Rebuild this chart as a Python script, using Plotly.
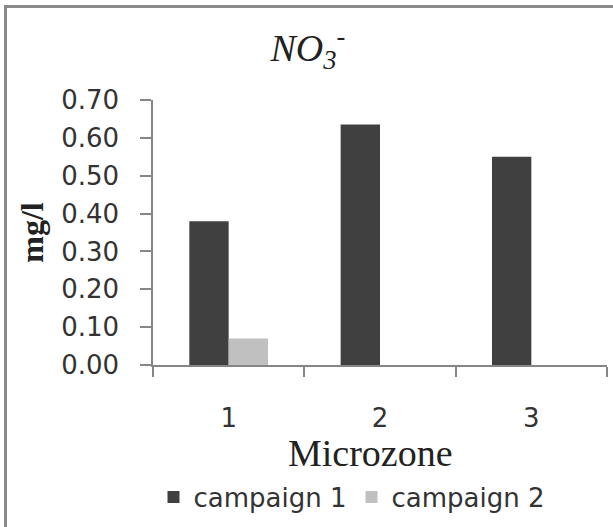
import plotly.graph_objects as go

zones = ["1", "2", "3"]
campaign1 = [0.38, 0.635, 0.55]
campaign2 = [0.07, 0.0, 0.0]
series_names = ["campaign 1", "campaign 2"]
y_ticks = [0.0, 0.1, 0.2, 0.3, 0.4, 0.5, 0.6, 0.7]
y_ticktext = ["%.2f" % v for v in y_ticks]

W, H = 613, 527
L, R, T, B = 153, 6, 100, 162
pw, ph = W - L - R, H - T - B

def px(x):
    return (x - L) / pw

def py(y):
    return (H - B - y) / ph

fig = go.Figure()
fig.add_trace(go.Bar(x=zones, y=campaign1, name=series_names[0],
                     marker=dict(color="#404040", line=dict(width=0))))
fig.add_trace(go.Bar(x=zones, y=campaign2, name=series_names[1],
                     marker=dict(color="#c0c0c0", line=dict(width=0))))

axis_color = "#868686"
sans = "DejaVu Sans"
serif = "Liberation Serif, Times New Roman, serif"

fig.update_layout(
    width=W, height=H,
    margin=dict(l=L, r=R, t=T, b=B, pad=0),
    paper_bgcolor="white", plot_bgcolor="white",
    barmode="group", bargap=0.48, bargroupgap=0,
    title=dict(text="<i>NO<sub>3</sub><sup>-</sup></i>",
               font=dict(family=serif, size=38, color="#222"),
               x=308 / W, xanchor="center", xref="container",
               y=1 - 48 / H, yanchor="middle", yref="container"),
    xaxis=dict(type="category", showline=True, linecolor=axis_color, linewidth=1.5,
               ticks="outside", tickson="boundaries", ticklen=10, tickcolor=axis_color,
               tickwidth=1.5, showgrid=False, ticklabelstandoff=29,
               tickfont=dict(family=sans, size=26, color="#333")),
    yaxis=dict(range=[0, 0.7], tickvals=y_ticks, ticktext=y_ticktext,
               showline=True, linecolor=axis_color, linewidth=1.5,
               ticks="outside", ticklen=11, tickcolor=axis_color, tickwidth=1.5,
               showgrid=False, zeroline=False, ticklabelstandoff=16,
               tickfont=dict(family=sans, size=26, color="#333"),
               title=dict(text="<b>mg/l</b>", font=dict(family=serif, size=32, color="#222"),
                          standoff=8)),
    annotations=[dict(text="Microzone", xref="paper", yref="paper",
                      x=px(370), y=py(453), xanchor="center", yanchor="middle",
                      showarrow=False, font=dict(family=serif, size=38, color="#222"))],
    showlegend=True,
    legend=dict(orientation="h", x=px(352), xanchor="center", y=py(497), yanchor="middle",
                font=dict(family=sans, size=26, color="#333"),
                bgcolor="rgba(0,0,0,0)", traceorder="normal"),
    shapes=[dict(type="rect", xref="paper", yref="paper",
                 x0=px(5.5), x1=px(640), y0=py(6.5), y1=py(560),
                 line=dict(color="#8a8a8a", width=3), layer="below")],
)

fig.write_html("out.html", config={"displayModeBar": False},
               post_script="document.body.style.margin='0';")
